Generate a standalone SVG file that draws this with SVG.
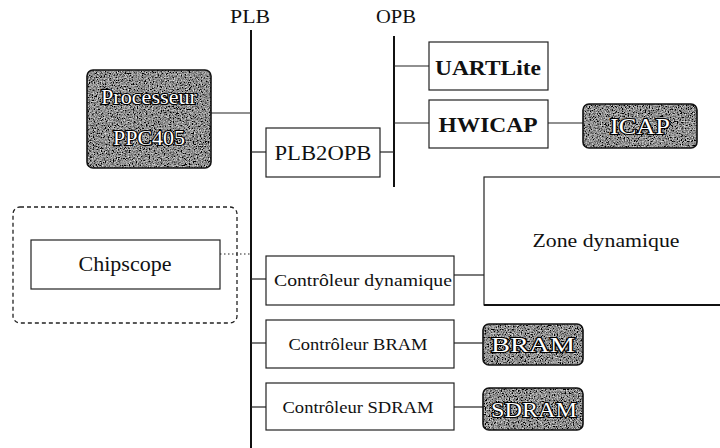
<svg xmlns="http://www.w3.org/2000/svg" width="720" height="448" viewBox="0 0 720 448">
  <style>
    .t { fill: #111; text-anchor: middle; }
    .box { fill: #fff; stroke: #222; stroke-width: 1.2; }
    .dark { stroke: #111; stroke-width: 1.6; }
    .grain { fill: #777; filter: url(#grain); }
    .light { fill: #fff; stroke: #000; stroke-width: 2.2; paint-order: stroke; text-anchor: middle; }
    .wire { stroke: #222; stroke-width: 1.2; fill: none; }
    .bus { stroke: #111; stroke-width: 2; fill: none; }
  </style>
  <defs>
    <filter id="grain" x="0" y="0" width="1" height="1">
      <feTurbulence type="fractalNoise" baseFrequency="0.75" numOctaves="2" seed="7" result="n"/>
      <feColorMatrix in="n" type="matrix" values="0.33 0.33 0.33 0 0  0.33 0.33 0.33 0 0  0.33 0.33 0.33 0 0  0 0 0 0 1" result="g"/>
      <feComponentTransfer in="g" result="c">
        <feFuncR type="linear" slope="2.6" intercept="-1.02"/>
        <feFuncG type="linear" slope="2.6" intercept="-1.02"/>
        <feFuncB type="linear" slope="2.6" intercept="-1.02"/>
      </feComponentTransfer>
      <feComposite in="c" in2="SourceGraphic" operator="in"/>
    </filter>
  </defs>

  <g style="font-family: 'Liberation Serif', 'Times New Roman', Times, serif">
  <!-- bus labels -->
  <text class="t" x="250" y="23" font-size="18" textLength="40" lengthAdjust="spacingAndGlyphs">PLB</text>
  <text class="t" x="396" y="23" font-size="18" textLength="40" lengthAdjust="spacingAndGlyphs">OPB</text>

  <!-- buses and links -->
  <g id="connectors">
    <line class="bus" x1="251" y1="30" x2="251" y2="448"/>
    <line class="bus" x1="394" y1="36" x2="394" y2="187" stroke-width="2.4"/>
    <line class="wire" x1="211" y1="113" x2="251" y2="113"/>
    <line class="wire" x1="251" y1="152" x2="266" y2="152"/>
    <line class="wire" x1="380" y1="152" x2="394" y2="152"/>
    <line class="wire" x1="394" y1="66" x2="429" y2="66"/>
    <line class="wire" x1="394" y1="123" x2="429" y2="123"/>
    <line class="wire" x1="548" y1="123" x2="583" y2="123"/>
    <line class="wire" x1="220" y1="254" x2="251" y2="254" stroke-dasharray="1.5 2.5"/>
    <line class="wire" x1="251" y1="279" x2="266" y2="279"/>
    <line class="wire" x1="454" y1="275" x2="484" y2="275"/>
    <line class="wire" x1="251" y1="343" x2="266" y2="343"/>
    <line class="wire" x1="454" y1="343" x2="483" y2="343"/>
    <line class="wire" x1="251" y1="407" x2="266" y2="407"/>
    <line class="wire" x1="454" y1="407" x2="483" y2="407"/>
  </g>

  <g id="processeur">
    <rect class="grain" x="87" y="70" width="124" height="98" rx="6"/>
    <rect class="dark" fill="none" x="87" y="70" width="124" height="98" rx="6"/>
    <text class="light" x="149" y="104" font-size="21" textLength="96" lengthAdjust="spacingAndGlyphs">Processeur</text>
    <text class="light" x="149" y="145" font-size="21" textLength="72" lengthAdjust="spacingAndGlyphs">PPC405</text>
  </g>

  <g id="plb2opb">
    <rect class="box" x="266" y="128" width="114" height="49"/>
    <text class="t" x="323" y="160" font-size="20" textLength="97" lengthAdjust="spacingAndGlyphs">PLB2OPB</text>
  </g>

  <g id="uartlite">
    <rect class="box" x="429" y="42" width="119" height="48"/>
    <text class="t" x="488" y="75" font-size="22" font-weight="bold" textLength="106" lengthAdjust="spacingAndGlyphs">UARTLite</text>
  </g>

  <g id="hwicap">
    <rect class="box" x="429" y="100" width="119" height="48"/>
    <text class="t" x="488" y="132" font-size="22" font-weight="bold" textLength="99" lengthAdjust="spacingAndGlyphs">HWICAP</text>
  </g>

  <g id="icap">
    <rect class="grain" x="583" y="104" width="114" height="44" rx="6"/>
    <rect class="dark" fill="none" x="583" y="104" width="114" height="44" rx="6"/>
    <text class="light" x="640" y="134" font-size="23" textLength="60" lengthAdjust="spacingAndGlyphs">ICAP</text>
  </g>

  <g id="zone-dynamique">
    <rect class="box" x="484" y="177" width="240" height="128"/>
    <line x1="484" y1="305" x2="720" y2="305" stroke="#111" stroke-width="2"/>
    <text class="t" x="606" y="247" font-size="19" textLength="147" lengthAdjust="spacingAndGlyphs">Zone dynamique</text>
  </g>

  <g id="chipscope-zone">
    <rect x="13" y="207" width="224" height="116" rx="7" fill="none" stroke="#222" stroke-width="1.3" stroke-dasharray="4 3"/>
  </g>

  <g id="chipscope">
    <rect class="box" x="31" y="240" width="189" height="49"/>
    <text class="t" x="125" y="271" font-size="20" textLength="93" lengthAdjust="spacingAndGlyphs">Chipscope</text>
  </g>

  <g id="controleur-dynamique">
    <rect class="box" x="266" y="256" width="188" height="49"/>
    <text class="t" x="363" y="286" font-size="17" textLength="178" lengthAdjust="spacingAndGlyphs">Contrôleur dynamique</text>
  </g>

  <g id="controleur-bram">
    <rect class="box" x="266" y="320" width="188" height="48"/>
    <text class="t" x="358" y="350" font-size="16.5" textLength="139" lengthAdjust="spacingAndGlyphs">Contrôleur BRAM</text>
  </g>

  <g id="bram">
    <rect class="grain" x="483" y="324" width="100" height="41" rx="6"/>
    <rect class="dark" fill="none" x="483" y="324" width="100" height="41" rx="6"/>
    <text class="light" x="533" y="352" font-size="22" textLength="84" lengthAdjust="spacingAndGlyphs">BRAM</text>
  </g>

  <g id="controleur-sdram">
    <rect class="box" x="266" y="383" width="188" height="47"/>
    <text class="t" x="358" y="413" font-size="16.5" textLength="151" lengthAdjust="spacingAndGlyphs">Contrôleur SDRAM</text>
  </g>

  <g id="sdram">
    <rect class="grain" x="483" y="388" width="100" height="42" rx="6"/>
    <rect class="dark" fill="none" x="483" y="388" width="100" height="42" rx="6"/>
    <text class="light" x="534" y="417" font-size="22" textLength="86" lengthAdjust="spacingAndGlyphs">SDRAM</text>
  </g>
  </g>
</svg>
